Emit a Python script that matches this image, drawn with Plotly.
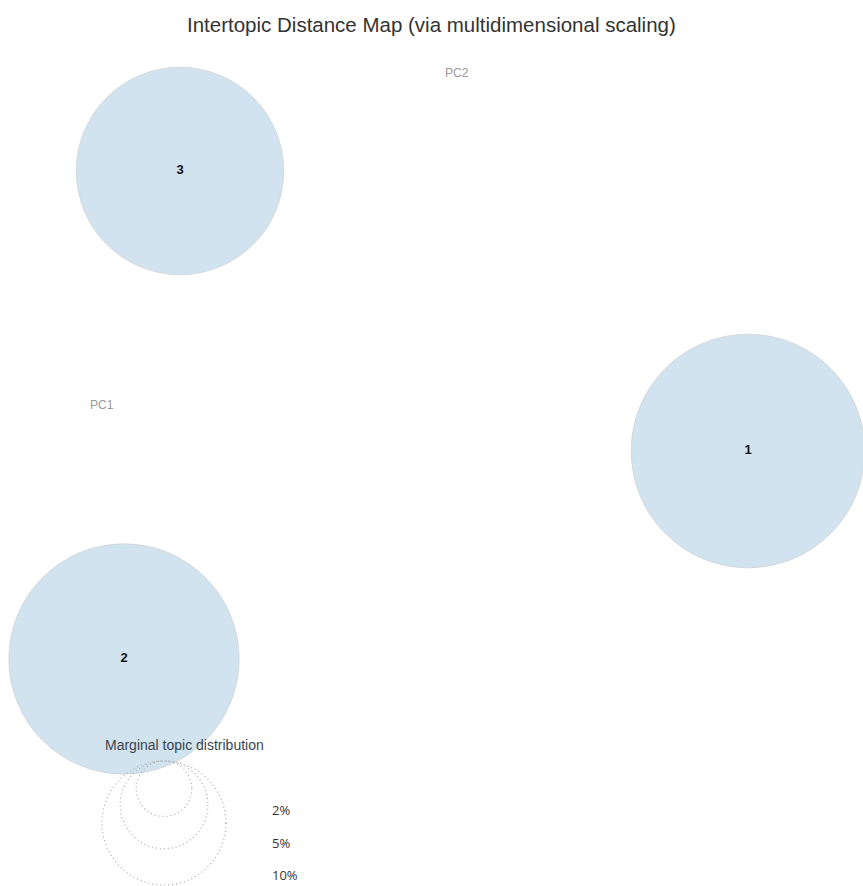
import plotly.graph_objects as go

# ---- data ----
topics = ["1", "2", "3"]
pc1 = [0.313, -0.311, -0.255]
pc2 = [-0.038, -0.246, 0.242]
marginal_pct = [35.5, 34.5, 28]      # marginal topic distribution (%)
legend_pct = [2, 5, 10]
legend_labels = ["2%", "5%", "10%"]

W, H = 863, 886
X_RANGE = [-0.435, 0.428]
Y_RANGE = [-0.473, 0.413]
R10 = 62.0  # pixel radius of the 10% circle


def px_x(px):
    return px / W


def px_y(py):
    return 1 - py / H


def radius(p):
    return R10 * (p / 10.0) ** 0.5


fig = go.Figure()

fig.add_trace(go.Scatter(
    x=pc1, y=pc2, mode="markers",
    marker=dict(
        size=[2 * radius(p) for p in marginal_pct],
        sizemode="diameter",
        color="#1f77b4",
        opacity=0.2,
        line=dict(color="rgba(0,0,0,0.6)", width=1),
    ),
    hoverinfo="skip", showlegend=False,
))

fig.add_trace(go.Scatter(
    x=pc1, y=pc2, mode="text", text=topics,
    textfont=dict(family="Liberation Sans", size=13, color="#111111", weight="bold"),
    hoverinfo="skip", showlegend=False,
))

shapes = []
annotations = []
# legend circles sharing a common top
top_px = 761
cx_px = 164
label_offsets = [6, 6, 10]
for p, lab, off in zip(legend_pct, legend_labels, label_offsets):
    r = radius(p)
    cy_px = top_px + r
    shapes.append(dict(
        type="circle", xref="paper", yref="paper",
        xsizemode="pixel", ysizemode="pixel",
        xanchor=px_x(cx_px), yanchor=px_y(cy_px),
        x0=-r, x1=r, y0=-r, y1=r,
        line=dict(color="#aaaaaa", width=1.2, dash="1px,3px"),
        fillcolor="rgba(0,0,0,0)",
    ))
    annotations.append(dict(
        x=px_x(270), y=px_y(cy_px + r - off), xref="paper", yref="paper",
        text=lab, showarrow=False, xanchor="left", yanchor="middle",
        font=dict(family="Open Sans", size=13, color="#333333"),
    ))

annotations += [
    dict(x=px_x(431), y=px_y(24), xref="paper", yref="paper",
         text="Intertopic Distance Map (via multidimensional scaling)",
         showarrow=False, xanchor="center", yanchor="middle",
         font=dict(family="Liberation Sans", size=20.5, color="#333333")),
    dict(x=px_x(103), y=px_y(745), xref="paper", yref="paper",
         text="Marginal topic distribution", showarrow=False,
         xanchor="left", yanchor="middle",
         font=dict(family="Liberation Sans", size=14, color="#3a4450")),
    dict(x=px_x(443), y=px_y(73), xref="paper", yref="paper",
         text="PC2", showarrow=False, xanchor="left", yanchor="middle",
         font=dict(family="Liberation Sans", size=12, color="#9a9a9a")),
    dict(x=px_x(88), y=px_y(405), xref="paper", yref="paper",
         text="PC1", showarrow=False, xanchor="left", yanchor="middle",
         font=dict(family="Liberation Sans", size=12, color="#9a9a9a")),
]

fig.update_layout(
    width=W, height=H,
    margin=dict(l=0, r=0, t=0, b=0),
    paper_bgcolor="white", plot_bgcolor="white",
    xaxis=dict(range=X_RANGE, visible=False, fixedrange=True),
    yaxis=dict(range=Y_RANGE, visible=False, fixedrange=True),
    shapes=shapes, annotations=annotations,
    hovermode=False,
)

fig.write_html("out.html", config={"displayModeBar": False})
